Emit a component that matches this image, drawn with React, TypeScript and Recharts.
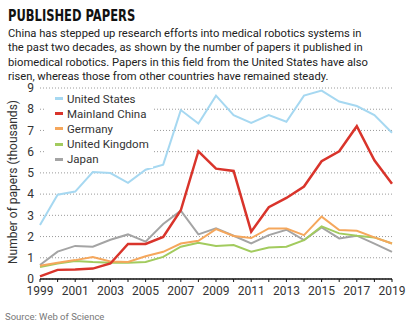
import React from 'react'
import { LineChart, Line, XAxis, YAxis, CartesianGrid } from 'recharts'

const YEARS = [1999, 2000, 2001, 2002, 2003, 2004, 2005, 2006, 2007, 2008, 2009, 2010, 2011, 2012, 2013, 2014, 2015, 2016, 2017, 2018, 2019]
const US    = [2.55, 3.97, 4.12, 5.04, 4.99, 4.53, 5.15, 5.39, 7.96, 7.33, 8.64, 7.72, 7.36, 7.72, 7.41, 8.64, 8.88, 8.36, 8.15, 7.72, 6.89]
const CHINA = [0.12, 0.43, 0.45, 0.49, 0.73, 1.65, 1.65, 1.98, 3.24, 6.02, 5.2, 5.09, 2.23, 3.38, 3.82, 4.36, 5.55, 6.02, 7.2, 5.59, 4.49]
const GERMANY = [0.62, 0.77, 0.89, 1.04, 0.83, 0.8, 1.07, 1.28, 1.67, 1.8, 2.35, 2.03, 1.93, 2.38, 2.38, 2.07, 2.94, 2.31, 2.27, 1.96, 1.67]
const UK    = [0.57, 0.73, 0.85, 0.8, 0.77, 0.77, 0.8, 1.04, 1.52, 1.71, 1.56, 1.6, 1.29, 1.48, 1.52, 1.83, 2.48, 2.15, 2.04, 1.96, 1.67]
const JAPAN = [0.66, 1.29, 1.56, 1.52, 1.85, 2.1, 1.76, 2.59, 3.22, 2.1, 2.39, 2.04, 1.68, 2.07, 2.32, 1.83, 2.43, 1.91, 2.04, 1.67, 1.28]
const Y_TICKS = [0, 1, 2, 3, 4, 5, 6, 7, 8, 9]

const SERIES = [
  { key: 'us',      name: 'United States',  color: '#a6d8f1', width: 2 },
  { key: 'china',   name: 'Mainland China', color: '#d9342b', width: 2.5 },
  { key: 'germany', name: 'Germany',        color: '#f5a75c', width: 2 },
  { key: 'uk',      name: 'United Kingdom', color: '#a2cb5e', width: 2 },
  { key: 'japan',   name: 'Japan',          color: '#a4a4a4', width: 2 },
]

const data = YEARS.map((year, i) => ({
  year,
  us: US[i],
  china: CHINA[i],
  germany: GERMANY[i],
  uk: UK[i],
  japan: JAPAN[i],
}))

const FONT = 'Roboto, sans-serif'

// legend sits on top of the grid with a white box, like the print version
function LegendBox() {
  return (
    <div style={{ position: 'absolute', left: 46, top: 90, background: '#fff', padding: '1px 4px 1px 9px', fontFamily: FONT }}>
      {SERIES.map((s) => (
        <div key={s.key} style={{ display: 'flex', alignItems: 'center', height: 15.2 }}>
          <span style={{ width: 8, height: 3, background: s.color, marginRight: 4 }} />
          <span style={{ fontSize: 11.5, color: '#333' }}>{s.name}</span>
        </div>
      ))}
    </div>
  )
}

export default function App() {
  return (
    <div style={{ position: 'absolute', top: 0, left: 0, width: 411, height: 327, background: '#fff', fontFamily: FONT }}>
      <div style={{ position: 'absolute', left: 8, top: 6, fontFamily: '"DejaVu Sans Condensed", sans-serif', fontWeight: 700, fontSize: 16, lineHeight: '20px', color: '#111', transform: 'scaleX(0.8)', transformOrigin: 'left', whiteSpace: 'nowrap' }}>
        PUBLISHED PAPERS
      </div>
      <div style={{ position: 'absolute', left: 8, top: 27, fontSize: 11.2, lineHeight: '14.3px', color: '#222', whiteSpace: 'nowrap' }}>
        China has stepped up research efforts into medical robotics systems in<br />
        the past two decades, as shown by the number of papers it published in<br />
        biomedical robotics. Papers in this field from the United States have also<br />
        risen, whereas those from other countries have remained steady.
      </div>
      <div style={{ position: 'absolute', left: 0, top: 0 }}>
        <LineChart width={411} height={327} data={data} margin={{ top: 88, right: 19, left: 0, bottom: 0 }}>
          <CartesianGrid horizontal vertical={false} stroke="#9a9a9a" strokeDasharray="1 2" />
          <XAxis
            dataKey="year"
            type="number"
            domain={[1999, 2019]}
            ticks={YEARS}
            interval={0}
            height={48}
            tickFormatter={(v: number) => (v % 2 === 1 ? String(v) : '')}
            axisLine={{ stroke: '#111', strokeWidth: 1.5 }}
            tickLine={{ stroke: '#111' }}
            tickSize={3}
            tickMargin={4}
            tick={{ fontSize: 12, fill: '#333', fontFamily: FONT }}
          />
          <YAxis
            width={40}
            domain={[0, 9]}
            ticks={Y_TICKS}
            interval={0}
            axisLine={false}
            tickLine={false}
            tickSize={0}
            tickMargin={6}
            tick={{ fontSize: 12, fill: '#333', fontFamily: FONT }}
            label={{
              content: () => (
                <text x={13} y={182} transform="rotate(-90 13 182)" textAnchor="middle" dominantBaseline="central" fontSize={12} fill="#333" fontFamily={FONT}>
                  Number of papers  (thousands)
                </text>
              ),
            }}
          />
          {SERIES.map((s) => (
            <Line
              key={s.key}
              dataKey={s.key}
              name={s.name}
              stroke={s.color}
              strokeWidth={s.width}
              dot={false}
              isAnimationActive={false}
            />
          )).reverse()}
        </LineChart>
      </div>
      <LegendBox />
      <div style={{ position: 'absolute', left: 5, top: 311, fontSize: 9.5, color: '#777' }}>Source: Web of Science</div>
    </div>
  )
}
